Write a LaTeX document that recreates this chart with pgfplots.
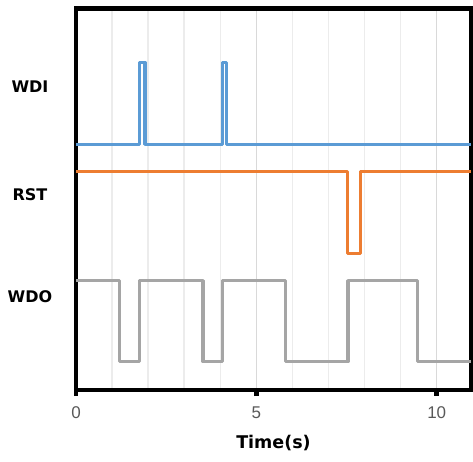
\documentclass[border=0pt]{standalone}
\usepackage{pgfplots}
\pgfplotsset{compat=1.18}
\usepackage{fontspec}
\setmainfont{Liberation Sans}
\newfontfamily\dejavu{DejaVu Sans}
\definecolor{cblue}{HTML}{5B9BD5}
\definecolor{corange}{HTML}{ED7D31}
\definecolor{cgray}{HTML}{A5A5A5}
\definecolor{ticktxt}{HTML}{595959}
\definecolor{gmaj}{HTML}{D9D9D9}
\definecolor{gmin}{HTML}{ECECEC}
\begin{document}
\begin{tikzpicture}
\begin{axis}[
  at={(76bp,72bp)}, anchor=south west,
  scale only axis,
  width=395bp, height=381.5bp,
  xmin=0, xmax=10.95, ymin=0, ymax=381.5,
  clip=false,
  xtick={0,5,10},
  minor xtick={1,2,3,4,6,7,8,9},
  ytick=\empty,
  xtick pos=left,
  tick align=outside,
  major tick length=6bp,
  minor tick length=0pt,
  tick style={black, line width=4bp},
  xmajorgrids, xminorgrids,
  major grid style={draw=gmaj, line width=1.5bp},
  minor grid style={draw=gmin, line width=1.5bp},
  axis line style={line width=4.5bp, black},
  /pgf/number format/assume math mode=true,
  xticklabel style={font=\fontsize{17bp}{20bp}\selectfont, text=ticktxt, anchor=center, yshift=-17bp},
  xlabel={Time(s)},
  xlabel style={font=\dejavu\bfseries\fontsize{17.5bp}{20bp}\selectfont, at={(axis description cs:0.5,0)}, anchor=center, yshift=-53bp},
  every axis plot/.append style={line width=3.3bp, line join=round},
]
\addplot[cblue] coordinates {(0,245.7) (1.76,245.7) (1.76,327.7) (1.91,327.7) (1.91,245.7) (4.07,245.7) (4.07,327.7) (4.18,327.7) (4.18,245.7) (10.95,245.7)};
\addplot[corange] coordinates {(0,218.3) (7.52,218.3) (7.52,136.7) (7.89,136.7) (7.89,218.3) (10.95,218.3)};
\addplot[cgray] coordinates {(0,109.3) (1.2,109.3) (1.2,28.3) (1.76,28.3) (1.76,109.3) (3.52,109.3) (3.52,28.3) (4.07,28.3) (4.07,109.3) (5.8,109.3) (5.8,28.3) (7.54,28.3) (7.54,109.3) (9.46,109.3) (9.46,28.3) (10.95,28.3)};
\draw[black, line width=4.5bp] (axis cs:0,0) -- ++(0,-6bp);
\draw[black, line width=4.5bp] (axis cs:5,0) -- ++(0,-6bp);
\draw[black, line width=4.5bp] (axis cs:10,0) -- ++(0,-6bp);
\node[font=\dejavu\bfseries\fontsize{16bp}{19bp}\selectfont, anchor=center, xshift=-46bp] at (axis cs:0,303) {WDI};
\node[font=\dejavu\bfseries\fontsize{16bp}{19bp}\selectfont, anchor=center, xshift=-46bp] at (axis cs:0,195) {RST};
\node[font=\dejavu\bfseries\fontsize{16bp}{19bp}\selectfont, anchor=center, xshift=-46bp] at (axis cs:0,93.2) {WDO};
\end{axis}
\pgfresetboundingbox
\path[use as bounding box] (0,0) rectangle (473bp,462bp);
\end{tikzpicture}
\end{document}
